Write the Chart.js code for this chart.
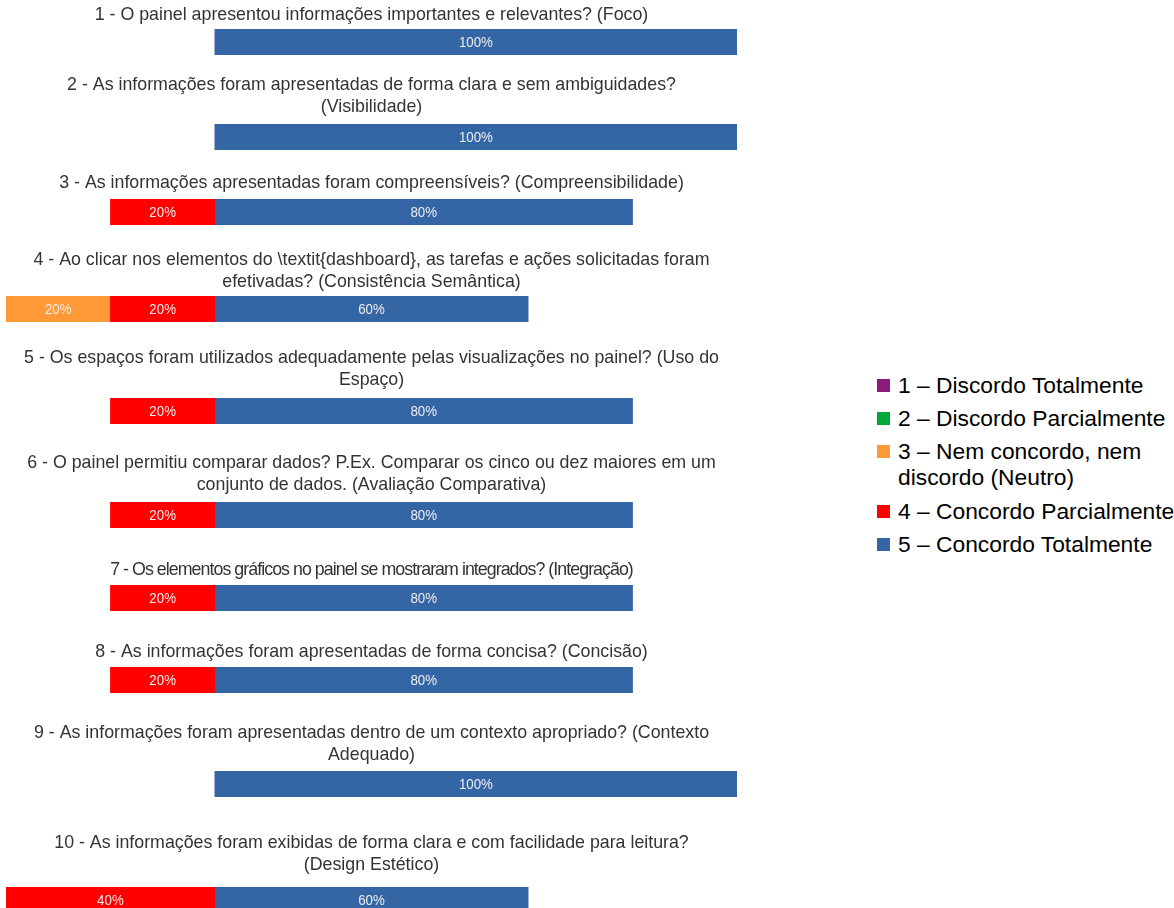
<!DOCTYPE html>
<html lang="pt-BR">
<head>
<meta charset="utf-8">
<title>Avaliação do painel</title>
<script src="https://cdn.jsdelivr.net/npm/chart.js@4.4.1/dist/chart.umd.min.js"></script>
<style>
  html, body { margin: 0; padding: 0; background: #ffffff; overflow: hidden; }
  #page { position: relative; width: 1174px; height: 908px; background: #ffffff; overflow: hidden; }
  .q { position: absolute; left: 6px; width: 731px; }
  .q canvas { display: block; }
  #legend {
    position: absolute; left: 877px; top: 372px; width: 318px;
    font-family: 'Liberation Sans', Arial, sans-serif; font-size: 22.8px; color: #000000;
  }
  .item { display: flex; align-items: flex-start; line-height: 26px; margin-bottom: 7.2px; }
  .sw { flex: none; width: 13px; height: 13px; margin-top: 7px; margin-right: 8px; }
</style>
</head>
<body>
<div id="page"><div id="legend"></div></div>
<script>
// Survey questions (each entry = title lines)
const questions = [
  ['1 - O painel apresentou informações importantes e relevantes? (Foco)'],
  ['2 - As informações foram apresentadas de forma clara e sem ambiguidades?', '(Visibilidade)'],
  ['3 - As informações apresentadas foram compreensíveis? (Compreensibilidade)'],
  ['4 - Ao clicar nos elementos do \\textit{dashboard}, as tarefas e ações solicitadas foram', 'efetivadas? (Consistência Semântica)'],
  ['5 - Os espaços foram utilizados adequadamente pelas visualizações no painel? (Uso do', 'Espaço)'],
  ['6 - O painel permitiu comparar dados? P.Ex. Comparar os cinco ou dez maiores em um', 'conjunto de dados. (Avaliação Comparativa)'],
  ['7 - Os elementos gráficos no painel se mostraram integrados? (Integração)'],
  ['8 - As informações foram apresentadas de forma concisa? (Concisão)'],
  ['9 - As informações foram apresentadas dentro de um contexto apropriado? (Contexto', 'Adequado)'],
  ['10 - As informações foram exibidas de forma clara e com facilidade para leitura?', '(Design Estético)']
];

// Likert scale series
const seriesNames = [
  '1 – Discordo Totalmente',
  '2 – Discordo Parcialmente',
  '3 – Nem concordo, nem discordo (Neutro)',
  '4 – Concordo Parcialmente',
  '5 – Concordo Totalmente'
];
const seriesColors = ['#8a1c7c', '#00a83a', '#ff9a36', '#ff0000', '#3465a4'];

// Percentages of answers per question
const discordoTotalmente   = [0, 0, 0, 0, 0, 0, 0, 0, 0, 0];
const discordoParcialmente = [0, 0, 0, 0, 0, 0, 0, 0, 0, 0];
const neutro               = [0, 0, 0, 20, 0, 0, 0, 0, 0, 0];
const concordoParcialmente = [0, 0, 20, 20, 20, 20, 20, 20, 0, 40];
const concordoTotalmente   = [100, 100, 80, 60, 80, 80, 80, 80, 100, 60];

// Axis range (diverging around zero)
const axisMin = -40;
const axisMax = 100;

// Page layout for each question block
const titleCenters = [15, 85, 183, 260, 358, 463, 570, 652, 733, 843];
const barTops      = [29, 124, 199, 296, 398, 502, 585, 667, 771, 887];
const titleTracking = [0, 0, 0, 0, 0, 0, -0.95, 0, 0, 0];
const BAR_H = 26;
const LINE_H = 22;
const TITLE_SIZE = 17.8;

// Disagreement side is plotted to the left of zero; empty segments are skipped
const left = v => (v ? -v : null);
const right = v => (v ? v : null);

// Percent labels centred inside each segment (slightly condensed lettering)
const valueLabels = {
  id: 'valueLabels',
  beforeDraw(chart, args, opts) {
    chart.ctx.letterSpacing = (opts.tracking || 0) + 'px';
  },
  beforeDatasetsDraw(chart) {
    chart.ctx.letterSpacing = '0px';
  },
  afterDatasetsDraw(chart) {
    const ctx = chart.ctx;
    const squeeze = 0.95;
    ctx.save();
    ctx.letterSpacing = '0px';
    ctx.font = '14px "Liberation Sans", Arial, sans-serif';
    ctx.fillStyle = '#eeeeee';
    ctx.textAlign = 'center';
    ctx.textBaseline = 'middle';
    chart.data.datasets.forEach((ds, di) => {
      const meta = chart.getDatasetMeta(di);
      meta.data.forEach((bar, j) => {
        const raw = ds.data[j];
        if (raw === null || raw === 0) return;
        const p = bar.getProps(['x', 'y', 'base'], true);
        const cx = (p.x + p.base) / 2;
        ctx.save();
        ctx.translate(cx, p.y + 1);
        ctx.scale(squeeze, 1);
        ctx.fillText(Math.abs(raw) + '%', 0, 0);
        ctx.restore();
      });
    });
    ctx.restore();
  }
};

const page = document.getElementById('page');

questions.forEach((lines, i) => {
  const top = titleCenters[i] - LINE_H / 2;
  const height = barTops[i] + BAR_H - top;
  const padBottom = barTops[i] - top - lines.length * LINE_H;

  const box = document.createElement('div');
  box.className = 'q';
  box.style.top = top + 'px';
  box.style.height = height + 'px';
  const canvas = document.createElement('canvas');
  box.appendChild(canvas);
  page.appendChild(box);

  new Chart(canvas, {
    type: 'bar',
    data: {
      labels: [''],
      datasets: [
        { label: seriesNames[3], data: [left(concordoParcialmente[i])], backgroundColor: seriesColors[3] },
        { label: seriesNames[2], data: [left(neutro[i])], backgroundColor: seriesColors[2] },
        { label: seriesNames[1], data: [left(discordoParcialmente[i])], backgroundColor: seriesColors[1] },
        { label: seriesNames[0], data: [left(discordoTotalmente[i])], backgroundColor: seriesColors[0] },
        { label: seriesNames[4], data: [right(concordoTotalmente[i])], backgroundColor: seriesColors[4] }
      ]
    },
    options: {
      indexAxis: 'y',
      responsive: true,
      maintainAspectRatio: false,
      animation: false,
      events: [],
      layout: { padding: 0 },
      datasets: { bar: { barPercentage: 1, categoryPercentage: 1, borderWidth: 0 } },
      scales: {
        x: { type: 'linear', stacked: true, min: axisMin, max: axisMax, display: false },
        y: { stacked: true, display: false }
      },
      plugins: {
        legend: { display: false },
        tooltip: { enabled: false },
        valueLabels: { tracking: titleTracking[i] },
        title: {
          display: true,
          text: lines,
          color: '#333333',
          font: { family: "'Liberation Sans', Arial, sans-serif", size: TITLE_SIZE, weight: 'normal', lineHeight: LINE_H + 'px' },
          padding: { top: 0, bottom: padBottom }
        }
      }
    },
    plugins: [valueLabels]
  });
});

// Legend
const legend = document.getElementById('legend');
seriesNames.forEach((name, k) => {
  const item = document.createElement('div');
  item.className = 'item';
  const sw = document.createElement('span');
  sw.className = 'sw';
  sw.style.background = seriesColors[k];
  const txt = document.createElement('span');
  txt.textContent = name;
  item.appendChild(sw);
  item.appendChild(txt);
  legend.appendChild(item);
});
</script>
</body>
</html>
